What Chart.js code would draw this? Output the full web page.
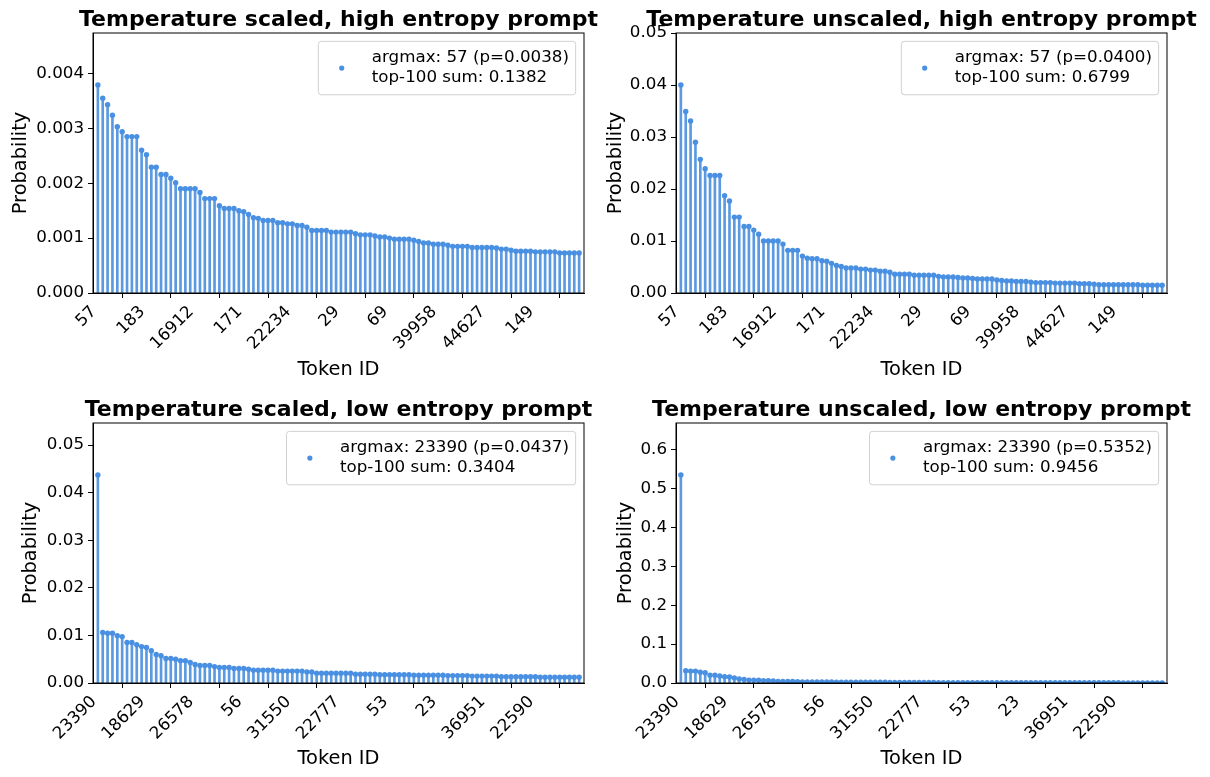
<!DOCTYPE html>
<html lang="en">
<head>
<meta charset="UTF-8">
<title>Top-100 token probabilities</title>
<style>
  body { margin: 0; background: #fff; }
  #fig { position: relative; width: 1210px; height: 777px; overflow: hidden; }
  #fig canvas { position: absolute; }
</style>
</head>
<body>
<div id="fig">
  <canvas id="c-scaled-high" width="605" height="388" style="left:0px;top:0px"></canvas>
  <canvas id="c-unscaled-high" width="605" height="388" style="left:605px;top:0px"></canvas>
  <canvas id="c-scaled-low" width="605" height="389" style="left:0px;top:388px"></canvas>
  <canvas id="c-unscaled-low" width="605" height="389" style="left:605px;top:388px"></canvas>
</div>

<script src="https://cdn.jsdelivr.net/npm/chart.js"></script>
<script>
// token ids shown under every 10th rank
const tokenTicksHigh = ['57', '183', '16912', '171', '22234', '29', '69', '39958', '44627', '149'];
const tokenTicksLow = ['23390', '18629', '26578', '56', '31550', '22777', '53', '23', '36951', '22590'];

// top-100 probabilities, sorted
const probScaledHigh = [
  0.00379, 0.00355, 0.00343, 0.00324, 0.00303, 0.00294, 0.00285, 0.00285, 0.00285, 0.00260,
  0.00252, 0.00229, 0.00229, 0.00216, 0.00216, 0.00209, 0.00201, 0.00190, 0.00190, 0.00190,
  0.00190, 0.00183, 0.00172, 0.00172, 0.00172, 0.00159, 0.00154, 0.00154, 0.00154, 0.00150,
  0.00148, 0.00143, 0.00137, 0.00136, 0.00132, 0.00132, 0.00132, 0.00128, 0.00128, 0.00126,
  0.00126, 0.00123, 0.00123, 0.00120, 0.00114, 0.00114, 0.00114, 0.00114, 0.00111, 0.00111,
  0.00111, 0.00111, 0.00111, 0.00108, 0.00106, 0.00106, 0.00106, 0.00104, 0.00102, 0.00102,
  0.00100, 0.00098, 0.00098, 0.00098, 0.00098, 0.00096, 0.00094, 0.00091, 0.00091, 0.00089,
  0.00089, 0.00089, 0.00087, 0.00085, 0.00085, 0.00085, 0.00085, 0.00083, 0.00083, 0.00083,
  0.00083, 0.00083, 0.00082, 0.00080, 0.00080, 0.00078, 0.00076, 0.00076, 0.00076, 0.00076,
  0.00075, 0.00075, 0.00075, 0.00075, 0.00075, 0.00073, 0.00073, 0.00073, 0.00073, 0.00073
];
const probUnscaledHigh = [
  0.0400, 0.0349, 0.0331, 0.0290, 0.0257, 0.0239, 0.0226, 0.0226, 0.0226, 0.0187,
  0.0177, 0.0146, 0.0146, 0.0128, 0.0128, 0.0121, 0.0113, 0.0100, 0.0100, 0.0100,
  0.0100, 0.0094, 0.0082, 0.0082, 0.0082, 0.0071, 0.0067, 0.0066, 0.0066, 0.0062,
  0.0061, 0.0057, 0.0053, 0.0051, 0.0048, 0.0048, 0.0048, 0.0046, 0.0046, 0.0044,
  0.0044, 0.0042, 0.0042, 0.0040, 0.0036, 0.0036, 0.0036, 0.0036, 0.0034, 0.0034,
  0.0034, 0.0034, 0.0034, 0.0032, 0.0031, 0.0031, 0.0031, 0.0030, 0.0029, 0.0029,
  0.0028, 0.0027, 0.0027, 0.0027, 0.0027, 0.0025, 0.0024, 0.0023, 0.0023, 0.0022,
  0.0022, 0.0022, 0.0021, 0.0020, 0.0020, 0.0020, 0.0020, 0.0019, 0.0019, 0.0019,
  0.0019, 0.0019, 0.0018, 0.0018, 0.0018, 0.0017, 0.0016, 0.0016, 0.0016, 0.0016,
  0.0016, 0.0016, 0.0016, 0.0016, 0.0016, 0.0015, 0.0015, 0.0015, 0.0015, 0.0015
];
const probScaledLow = [
  0.04370, 0.01060, 0.01045, 0.01045, 0.00995, 0.00975, 0.00850, 0.00850, 0.00805, 0.00765,
  0.00745, 0.00680, 0.00600, 0.00575, 0.00515, 0.00515, 0.00500, 0.00470, 0.00470, 0.00430,
  0.00390, 0.00370, 0.00370, 0.00370, 0.00345, 0.00325, 0.00325, 0.00325, 0.00305, 0.00305,
  0.00305, 0.00290, 0.00270, 0.00270, 0.00270, 0.00270, 0.00270, 0.00250, 0.00250, 0.00250,
  0.00250, 0.00250, 0.00250, 0.00230, 0.00230, 0.00205, 0.00205, 0.00205, 0.00205, 0.00205,
  0.00205, 0.00205, 0.00205, 0.00185, 0.00185, 0.00185, 0.00185, 0.00185, 0.00175, 0.00175,
  0.00175, 0.00175, 0.00175, 0.00175, 0.00175, 0.00165, 0.00165, 0.00165, 0.00165, 0.00165,
  0.00165, 0.00165, 0.00155, 0.00155, 0.00155, 0.00155, 0.00155, 0.00145, 0.00145, 0.00145,
  0.00145, 0.00145, 0.00145, 0.00130, 0.00130, 0.00130, 0.00130, 0.00130, 0.00130, 0.00130,
  0.00130, 0.00120, 0.00120, 0.00120, 0.00120, 0.00120, 0.00120, 0.00120, 0.00120, 0.00120
];
const probUnscaledLow = [
  0.5352, 0.0315, 0.0306, 0.0306, 0.0277, 0.0266, 0.0202, 0.0202, 0.0181, 0.0164,
  0.0155, 0.0129, 0.0101, 0.0093, 0.0074, 0.0074, 0.0070, 0.0062, 0.0062, 0.0052,
  0.0043, 0.0038, 0.0038, 0.0038, 0.0033, 0.0030, 0.0030, 0.0030, 0.0026, 0.0026,
  0.0026, 0.0024, 0.0020, 0.0020, 0.0020, 0.0020, 0.0020, 0.00175, 0.00175, 0.00175,
  0.00175, 0.00175, 0.00175, 0.0015, 0.0015, 0.0012, 0.0012, 0.0012, 0.0012, 0.0012,
  0.0012, 0.0012, 0.0012, 0.00096, 0.00096, 0.00096, 0.00096, 0.00096, 0.00086, 0.00086,
  0.00086, 0.00086, 0.00086, 0.00086, 0.00086, 0.00076, 0.00076, 0.00076, 0.00076, 0.00076,
  0.00076, 0.00076, 0.00067, 0.00067, 0.00067, 0.00067, 0.00067, 0.00059, 0.00059, 0.00059,
  0.00059, 0.00059, 0.00059, 0.00047, 0.00047, 0.00047, 0.00047, 0.00047, 0.00047, 0.00047,
  0.00047, 0.00040, 0.00040, 0.00040, 0.00040, 0.00040, 0.00040, 0.00040, 0.00040, 0.00040
];

// sums over the full top-100 (from the legends)
const topSums = [0.1382, 0.6799, 0.3404, 0.9456];

const DOT = '#4a90e2';
const STEM = '#5b9ae1';
const FONT = 'DejaVu Sans';

Chart.defaults.font.family = FONT;
Chart.defaults.color = '#000';

// axes frame, title over the axes and a matplotlib-ish legend box
const decorPlugin = {
  id: 'decor',
  afterDraw(chart, args, opts) {
    const ctx = chart.ctx;
    const a = chart.chartArea;
    ctx.save();
    ctx.strokeStyle = '#000';
    ctx.lineWidth = 1;
    ctx.strokeRect(a.left, a.top, a.right - a.left, a.bottom - a.top);

    ctx.fillStyle = '#000';
    ctx.font = 'bold 22px "' + FONT + '"';
    ctx.textAlign = 'center';
    ctx.textBaseline = 'alphabetic';
    ctx.fillText(opts.title, (a.left + a.right) / 2, a.top - 7);

    const fs = 16.7;
    ctx.font = fs + 'px "' + FONT + '"';
    const w = Math.max(...opts.lines.map(t => ctx.measureText(t).width));
    const pad = 0.4 * fs, lh = fs * 1.2;
    const bw = pad + 2.8 * fs + w + pad;
    const bh = 2 * pad + 2 * lh;
    const x0 = a.right - 0.5 * fs - bw;
    const y0 = a.top + 0.5 * fs;
    ctx.beginPath();
    ctx.roundRect(x0, y0, bw, bh, 3);
    ctx.fillStyle = 'rgba(255,255,255,0.8)';
    ctx.fill();
    ctx.strokeStyle = '#d0d0d0';
    ctx.stroke();
    ctx.beginPath();
    ctx.arc(x0 + pad + fs, y0 + bh / 2, 2.6, 0, Math.PI * 2);
    ctx.fillStyle = DOT;
    ctx.fill();
    ctx.fillStyle = '#000';
    ctx.textAlign = 'left';
    ctx.textBaseline = 'middle';
    opts.lines.forEach((t, k) => ctx.fillText(t, x0 + pad + 2.8 * fs, y0 + pad + lh * (k + 0.5)));
    ctx.restore();
  }
};

function stemChart(id, title, probs, tickLabels, topSum, yStep, yDigits, box) {
  const pts = probs.map((p, i) => ({ x: i, y: p }));
  const argmax = 'argmax: ' + tickLabels[0] + ' (p=' + probs[0].toFixed(4) + ')';
  new Chart(document.getElementById(id), {
    type: 'bar',
    data: {
      datasets: [
        { type: 'line', data: pts, showLine: false, pointRadius: 2.7, pointBorderWidth: 0,
          pointBackgroundColor: DOT, order: 0 },
        { type: 'bar', data: pts, backgroundColor: STEM, barThickness: 2, order: 1 }
      ]
    },
    options: {
      responsive: false,
      animation: false,
      events: [],
      layout: { padding: { top: box.top, right: box.right, left: 0, bottom: 0 } },
      plugins: {
        legend: { display: false },
        tooltip: { enabled: false },
        decor: { title: title, lines: [argmax, 'top-100 sum: ' + topSum.toFixed(4)] }
      },
      scales: {
        x: {
          type: 'linear', min: -1, max: 100, offset: false,
          afterBuildTicks: s => { s.ticks = tickLabels.map((_, k) => ({ value: k * 10 })); },
          afterFit: s => { s.height = box.xh; },
          ticks: { autoSkip: false, minRotation: 45, maxRotation: 45, padding: 4, labelOffset: -4,
                   font: { size: 16.7 }, callback: v => tickLabels[Math.round(v / 10)] },
          grid: { drawOnChartArea: false, tickLength: 5, tickColor: '#000' },
          border: { color: '#000' },
          title: { display: true, text: 'Token ID', font: { size: 19.4, lineHeight: 1 },
                   padding: { top: 0, bottom: 8 } }
        },
        y: {
          min: 0, max: probs[0] * 1.25,
          afterFit: s => { s.width = box.left; },
          ticks: { stepSize: yStep, includeBounds: false, padding: 4, font: { size: 16.7 },
                   callback: v => v.toFixed(yDigits) },
          grid: { drawOnChartArea: false, tickLength: 5, tickColor: '#000' },
          border: { color: '#000' },
          title: { display: true, text: 'Probability', font: { size: 19.4, lineHeight: 1 },
                   padding: { top: box.yPad, bottom: 0 } }
        }
      }
    },
    plugins: [decorPlugin]
  });
}

stemChart('c-scaled-high', 'Temperature scaled, high entropy prompt', probScaledHigh, tokenTicksHigh,
  topSums[0], 0.001, 3, { left: 93, top: 33, right: 21, xh: 95, yPad: 11 });
stemChart('c-unscaled-high', 'Temperature unscaled, high entropy prompt', probUnscaledHigh, tokenTicksHigh,
  topSums[1], 0.01, 2, { left: 71, top: 33, right: 43, xh: 95, yPad: 1 });
stemChart('c-scaled-low', 'Temperature scaled, low entropy prompt', probScaledLow, tokenTicksLow,
  topSums[2], 0.01, 2, { left: 93, top: 35, right: 21, xh: 94, yPad: 21 });
stemChart('c-unscaled-low', 'Temperature unscaled, low entropy prompt', probUnscaledLow, tokenTicksLow,
  topSums[3], 0.1, 1, { left: 71, top: 35, right: 43, xh: 94, yPad: 11 });
</script>
</body>
</html>
